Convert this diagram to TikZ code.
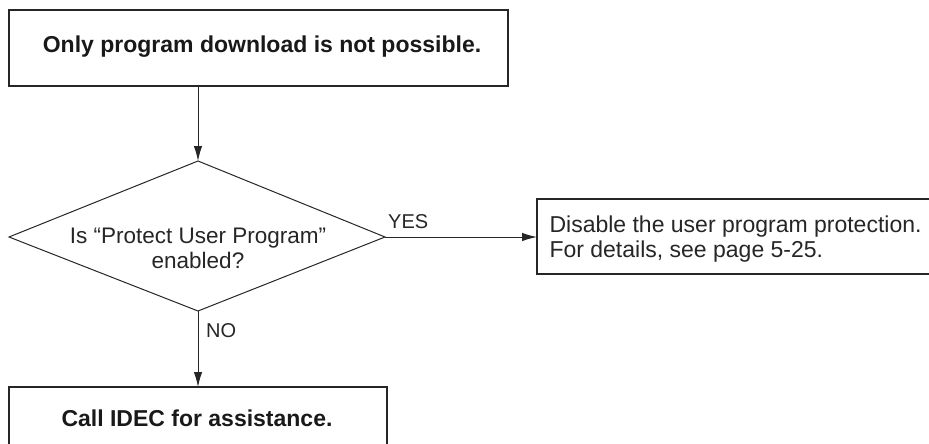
\documentclass[tikz,border=0pt]{standalone}
\usepackage{fontspec}
\setmainfont{Liberation Sans}
\usetikzlibrary{arrows.meta,shapes.geometric}
\tikzset{
  x=1pt,y=-1pt,
  boxline/.style={draw=black!85,line width=1.2pt},
  conn/.style={draw=black!85,line width=1pt,-{Latex[length=15pt,width=8.5pt]}},
  boldtxt/.style={font=\fontsize{23}{27}\selectfont\bfseries,text=black!90},
  normtxt/.style={font=\fontsize{23}{25}\selectfont,text=black!85,align=center},
  labtxt/.style={font=\fontsize{20}{23}\selectfont,text=black!85},
}
\begin{document}
\begin{tikzpicture}
\useasboundingbox (0,0) rectangle (929,444);
\clip (0,0) rectangle (929,444);
% top box
\draw[boxline] (9,10) rectangle (508,86);
\node[boldtxt] (top) at (262,47) {Only program download is not possible.};
\coordinate (topS) at (198,86);
% diamond
\draw[boxline,line width=1pt] (198,161) -- (385,237) -- (198,311) -- (9,237) -- cycle;
\coordinate (dN) at (198,161);
\coordinate (dE) at (385,237);
\coordinate (dS) at (198,311);
\node[normtxt,font=\fontsize{22.5}{25}\selectfont] (q) at (198,248) {Is “Protect User Program”\\enabled?};
% right box
\draw[boxline] (537,199) rectangle (940,274);
\coordinate (rW) at (537,237);
\node[normtxt,align=left,anchor=west] (r) at (546,239) {Disable the user program protection.\\For details, see page 5-25.};
% bottom box
\draw[boxline] (9,387) rectangle (387,460);
\coordinate (bN) at (198,387);
\node[boldtxt] (b) at (197,418) {Call IDEC for assistance.};
% connectors
\draw[conn] (topS) -- (dN);
\draw[conn] (dE) -- (rW);
\draw[conn] (dS) -- (bN);
\node[labtxt,anchor=base west,inner sep=0pt] (yes) at (388,228) {YES};
\node[labtxt,anchor=base west,inner sep=0pt] (no) at (206,337) {NO};
\end{tikzpicture}
\end{document}
